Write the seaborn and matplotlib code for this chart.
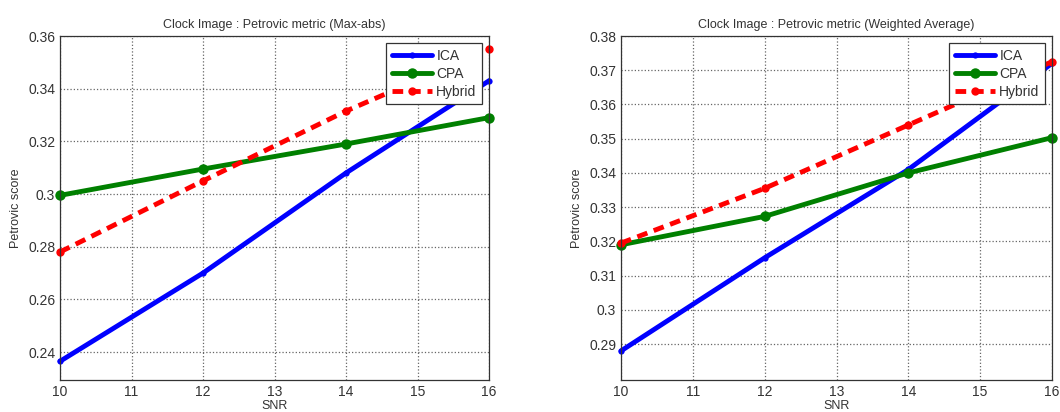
import numpy as np
import pandas as pd
import matplotlib
matplotlib.use("Agg")
import matplotlib.pyplot as plt
import matplotlib.ticker as mticker
import seaborn as sns

snr = [10, 12, 14, 16]

ica_maxabs = [0.2365, 0.2700, 0.3080, 0.3430]
cpa_maxabs = [0.2995, 0.3095, 0.3190, 0.3290]
hybrid_maxabs = [0.2780, 0.3050, 0.3315, 0.3550]

ica_wavg = [0.2880, 0.3152, 0.3410, 0.3720]
cpa_wavg = [0.3190, 0.3273, 0.3400, 0.3503]
hybrid_wavg = [0.3195, 0.3355, 0.3540, 0.3725]

titles = ["Clock Image : Petrovic metric (Max-abs)",
          "Clock Image : Petrovic metric (Weighted Average)"]


def main():
    sns.set_style("white")
    plt.rcParams['font.family'] = ['Liberation Sans', 'DejaVu Sans']
    plt.rcParams['text.color'] = '#333333'
    plt.rcParams['axes.labelcolor'] = '#333333'
    plt.rcParams['xtick.color'] = '#333333'
    plt.rcParams['ytick.color'] = '#333333'

    fig = plt.figure(figsize=(10.6, 4.12), dpi=100)
    ax1 = fig.add_axes([60 / 1060, 32 / 412, 429 / 1060, 344 / 412])
    ax2 = fig.add_axes([621 / 1060, 32 / 412, 431 / 1060, 344 / 412])

    panels = [
        (ax1, ica_maxabs, cpa_maxabs, hybrid_maxabs, (0.2294, 0.36), np.arange(0.24, 0.361, 0.02)),
        (ax2, ica_wavg, cpa_wavg, hybrid_wavg, (0.2795, 0.38), np.arange(0.29, 0.381, 0.01)),
    ]

    for i, (ax, ica, cpa, hyb, ylim, yt) in enumerate(panels):
        df = pd.DataFrame({'SNR': snr, 'ICA': ica, 'CPA': cpa, 'Hybrid': hyb})
        sns.lineplot(data=df, x='SNR', y='ICA', ax=ax, color='#0000ff', lw=3.5,
                     marker='o', markersize=4.5, markeredgewidth=0, label='ICA', clip_on=False)
        sns.lineplot(data=df, x='SNR', y='CPA', ax=ax, color='#008000', lw=3.5,
                     marker='o', markersize=7.5, markeredgewidth=0, label='CPA', clip_on=False)
        sns.lineplot(data=df, x='SNR', y='Hybrid', ax=ax, color='#ff0000', lw=3.5,
                     linestyle=(0, (2.2, 1.4)), marker='o', markersize=6,
                     markeredgewidth=0, label='Hybrid', clip_on=False)

        ax.set_xlim(10, 16)
        ax.set_ylim(*ylim)
        ax.set_xticks(range(10, 17))
        ax.set_yticks(yt)
        ax.yaxis.set_major_formatter(mticker.FuncFormatter(lambda v, p: '%g' % round(v, 3)))
        ax.tick_params(labelsize=10, direction='in', length=4, color='#333333')
        ax.grid(True, linestyle=':', color='#666666', linewidth=0.9)
        for s in ax.spines.values():
            s.set_color('#333333')
            s.set_linewidth(0.9)
        ax.set_xlabel('SNR', fontsize=9, labelpad=1)
        ax.set_ylabel('Petrovic score', fontsize=9, labelpad=4)
        ax.set_title(titles[i], fontsize=9, pad=6)

        leg = ax.legend(loc='upper right', fontsize=10, frameon=True, fancybox=False,
                        borderaxespad=0.5, handlelength=2.9, labelspacing=0.3,
                        borderpad=0.4, handletextpad=0.3)
        leg.get_frame().set_edgecolor('#333333')
        leg.get_frame().set_linewidth(0.9)
        leg.get_frame().set_alpha(1)
        leg.set_zorder(10)

    fig.savefig('out.png', dpi=100)


main()
